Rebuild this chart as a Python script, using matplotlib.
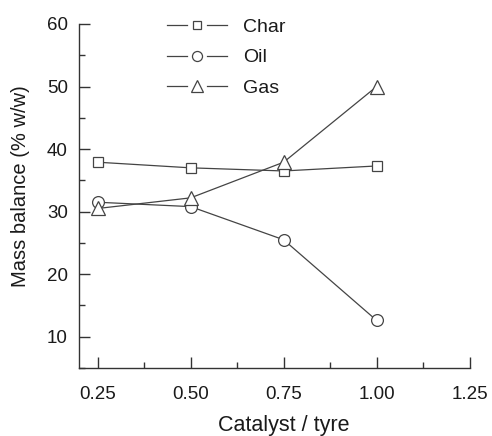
import matplotlib
matplotlib.use("Agg")
import matplotlib.pyplot as plt
from matplotlib.lines import Line2D
from matplotlib.legend_handler import HandlerBase
from matplotlib.ticker import MultipleLocator

# --- Data ---
catalyst_ratio = [0.25, 0.50, 0.75, 1.00]
char_yield = [37.9, 37.0, 36.5, 37.3]
oil_yield = [31.5, 30.8, 25.5, 12.6]
gas_yield = [30.5, 32.2, 37.9, 50.0]

series_names = ["Char", "Oil", "Gas"]
x_ticks = [0.25, 0.50, 0.75, 1.00, 1.25]
y_ticks = [10, 20, 30, 40, 50, 60]

LINE_COLOR = "#444444"
TEXT_COLOR = "#1a1a1a"
plt.rcParams["font.family"] = ["Liberation Sans", "DejaVu Sans"]


class GapLineHandler(HandlerBase):
    """Legend key drawn as line - marker - line with small gaps."""

    def create_artists(self, legend, orig_handle, xdescent, ydescent,
                       width, height, fontsize, trans):
        x0 = -xdescent
        y = height / 2 - ydescent
        style = dict(color=orig_handle.get_color(),
                     lw=orig_handle.get_linewidth())
        left = Line2D([x0, x0 + 0.34 * width], [y, y], **style)
        right = Line2D([x0 + 0.66 * width, x0 + width], [y, y], **style)
        mark = Line2D([x0 + 0.5 * width], [y], ls="none",
                      marker=orig_handle.get_marker(),
                      ms=orig_handle.get_markersize() * 0.85,
                      mfc="white", mec=orig_handle.get_markeredgecolor(),
                      mew=orig_handle.get_markeredgewidth())
        for art in (left, right, mark):
            art.set_transform(trans)
        return [left, right, mark]


fig = plt.figure(figsize=(4.92, 4.36), dpi=100)
ax = fig.add_axes([0.1606, 0.156, 0.794, 0.789])

handles = []
for values, marker, ms, name in zip([char_yield, oil_yield, gas_yield],
                                    ["s", "o", "^"], [7.5, 8.5, 9.5],
                                    series_names):
    line, = ax.plot(catalyst_ratio, values, color=LINE_COLOR, lw=0.9,
                    marker=marker, ms=ms, mfc="white", mec="#444444",
                    mew=0.9, label=name)
    handles.append(line)

ax.set_xlim(0.2, 1.25)
ax.set_ylim(5, 60)
ax.set_xticks(x_ticks)
ax.set_xticklabels([f"{t:.2f}" for t in x_ticks])
ax.set_yticks(y_ticks)
ax.xaxis.set_minor_locator(MultipleLocator(0.125))
ax.yaxis.set_minor_locator(MultipleLocator(5))

for side in ["top", "right"]:
    ax.spines[side].set_visible(False)
for side in ["left", "bottom"]:
    ax.spines[side].set_color("#333333")
    ax.spines[side].set_linewidth(1.0)

ax.tick_params(which="major", direction="in", length=8, width=1.0,
               color="#333333", labelsize=13.5, labelcolor=TEXT_COLOR)
ax.tick_params(axis="x", which="major", pad=13)
ax.tick_params(axis="y", which="major", pad=8)
ax.tick_params(which="minor", direction="in", length=4, width=1.0,
               color="#333333")

ax.set_xlabel("Catalyst / tyre", fontsize=15.5, color=TEXT_COLOR,
              va="center")
ax.xaxis.set_label_coords(0.524, -0.166)
ax.set_ylabel("Mass balance (% w/w)", fontsize=14.5, color=TEXT_COLOR,
              va="center", ha="center")
ax.yaxis.set_label_coords(-0.151, 0.529)

leg = ax.legend(handles=handles, loc="upper left",
                bbox_to_anchor=(167 / 492, 1 - 18 / 436),
                bbox_transform=fig.transFigure,
                frameon=False, fontsize=14, handlelength=3.1,
                handletextpad=0.8, labelspacing=0.68, borderpad=0,
                borderaxespad=0,
                handler_map={Line2D: GapLineHandler()})
for txt in leg.get_texts():
    txt.set_color(TEXT_COLOR)

fig.savefig("out.png", dpi=100)
